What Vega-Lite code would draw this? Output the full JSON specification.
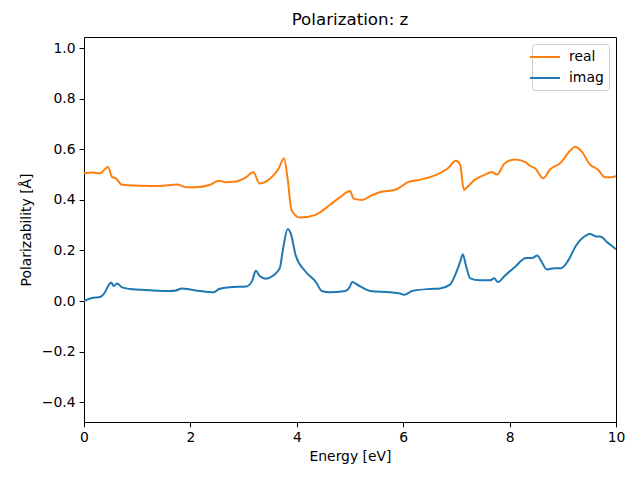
{
  "$schema": "https://vega.github.io/schema/vega-lite/v6.json",
  "width": 532,
  "height": 385,
  "autosize": "none",
  "padding": {"left": 84, "top": 37, "right": 24, "bottom": 58},
  "background": "white",
  "title": {"text": "Polarization: z", "fontSize": 16.7, "fontWeight": "normal", "font": "DejaVu Sans", "offset": 8, "color": "black"},
  "config": {
    "view": {"stroke": "black", "strokeWidth": 1},
    "axis": {"grid": false, "domain": false, "labelFlush": false, "tickColor": "black", "tickSize": 4.9, "tickWidth": 1, "labelFont": "DejaVu Sans", "labelFontSize": 13.9, "labelColor": "black", "titleFont": "DejaVu Sans", "titleFontSize": 13.9, "titleFontWeight": "normal", "titleColor": "black", "labelPadding": 4}
  },
  "data": {"values": [
    {"e":0,"v":0.505,"s":"real"},{"e":0.15,"v":0.508,"s":"real"},{"e":0.3,"v":0.505,"s":"real"},{"e":0.45,"v":0.53,"s":"real"},{"e":0.53,"v":0.49,"s":"real"},{"e":0.6,"v":0.485,"s":"real"},{"e":0.71,"v":0.46,"s":"real"},{"e":1.05,"v":0.456,"s":"real"},{"e":1.43,"v":0.455,"s":"real"},{"e":1.75,"v":0.461,"s":"real"},{"e":1.92,"v":0.45,"s":"real"},{"e":2.1,"v":0.45,"s":"real"},{"e":2.37,"v":0.46,"s":"real"},{"e":2.54,"v":0.476,"s":"real"},{"e":2.65,"v":0.47,"s":"real"},{"e":2.86,"v":0.473,"s":"real"},{"e":3.05,"v":0.49,"s":"real"},{"e":3.18,"v":0.51,"s":"real"},{"e":3.3,"v":0.465,"s":"real"},{"e":3.5,"v":0.485,"s":"real"},{"e":3.65,"v":0.52,"s":"real"},{"e":3.76,"v":0.565,"s":"real"},{"e":3.83,"v":0.48,"s":"real"},{"e":3.9,"v":0.36,"s":"real"},{"e":4.06,"v":0.33,"s":"real"},{"e":4.34,"v":0.34,"s":"real"},{"e":4.43,"v":0.35,"s":"real"},{"e":4.62,"v":0.38,"s":"real"},{"e":4.81,"v":0.41,"s":"real"},{"e":5.0,"v":0.435,"s":"real"},{"e":5.07,"v":0.405,"s":"real"},{"e":5.23,"v":0.4,"s":"real"},{"e":5.38,"v":0.415,"s":"real"},{"e":5.56,"v":0.43,"s":"real"},{"e":5.85,"v":0.44,"s":"real"},{"e":5.98,"v":0.455,"s":"real"},{"e":6.09,"v":0.47,"s":"real"},{"e":6.32,"v":0.48,"s":"real"},{"e":6.63,"v":0.5,"s":"real"},{"e":6.84,"v":0.525,"s":"real"},{"e":6.99,"v":0.555,"s":"real"},{"e":7.07,"v":0.54,"s":"real"},{"e":7.14,"v":0.44,"s":"real"},{"e":7.2,"v":0.45,"s":"real"},{"e":7.35,"v":0.48,"s":"real"},{"e":7.54,"v":0.5,"s":"real"},{"e":7.67,"v":0.51,"s":"real"},{"e":7.76,"v":0.5,"s":"real"},{"e":7.91,"v":0.545,"s":"real"},{"e":8.1,"v":0.56,"s":"real"},{"e":8.29,"v":0.55,"s":"real"},{"e":8.38,"v":0.535,"s":"real"},{"e":8.48,"v":0.525,"s":"real"},{"e":8.63,"v":0.485,"s":"real"},{"e":8.76,"v":0.52,"s":"real"},{"e":8.95,"v":0.545,"s":"real"},{"e":9.14,"v":0.595,"s":"real"},{"e":9.23,"v":0.61,"s":"real"},{"e":9.36,"v":0.59,"s":"real"},{"e":9.51,"v":0.54,"s":"real"},{"e":9.66,"v":0.52,"s":"real"},{"e":9.79,"v":0.49,"s":"real"},{"e":9.92,"v":0.49,"s":"real"},{"e":10,"v":0.495,"s":"real"},
    {"e":0,"v":0.0,"s":"imag"},{"e":0.15,"v":0.012,"s":"imag"},{"e":0.3,"v":0.016,"s":"imag"},{"e":0.38,"v":0.03,"s":"imag"},{"e":0.47,"v":0.065,"s":"imag"},{"e":0.51,"v":0.073,"s":"imag"},{"e":0.56,"v":0.06,"s":"imag"},{"e":0.62,"v":0.07,"s":"imag"},{"e":0.71,"v":0.055,"s":"imag"},{"e":0.86,"v":0.048,"s":"imag"},{"e":1.24,"v":0.043,"s":"imag"},{"e":1.62,"v":0.04,"s":"imag"},{"e":1.73,"v":0.042,"s":"imag"},{"e":1.84,"v":0.05,"s":"imag"},{"e":1.99,"v":0.046,"s":"imag"},{"e":2.18,"v":0.04,"s":"imag"},{"e":2.44,"v":0.035,"s":"imag"},{"e":2.54,"v":0.048,"s":"imag"},{"e":2.74,"v":0.055,"s":"imag"},{"e":3.05,"v":0.058,"s":"imag"},{"e":3.16,"v":0.08,"s":"imag"},{"e":3.23,"v":0.12,"s":"imag"},{"e":3.3,"v":0.1,"s":"imag"},{"e":3.42,"v":0.088,"s":"imag"},{"e":3.55,"v":0.1,"s":"imag"},{"e":3.68,"v":0.13,"s":"imag"},{"e":3.74,"v":0.205,"s":"imag"},{"e":3.83,"v":0.285,"s":"imag"},{"e":3.89,"v":0.265,"s":"imag"},{"e":3.98,"v":0.18,"s":"imag"},{"e":4.15,"v":0.12,"s":"imag"},{"e":4.36,"v":0.075,"s":"imag"},{"e":4.47,"v":0.04,"s":"imag"},{"e":4.62,"v":0.035,"s":"imag"},{"e":4.91,"v":0.04,"s":"imag"},{"e":5.0,"v":0.058,"s":"imag"},{"e":5.04,"v":0.075,"s":"imag"},{"e":5.19,"v":0.058,"s":"imag"},{"e":5.38,"v":0.04,"s":"imag"},{"e":5.75,"v":0.035,"s":"imag"},{"e":5.94,"v":0.03,"s":"imag"},{"e":6.02,"v":0.025,"s":"imag"},{"e":6.17,"v":0.04,"s":"imag"},{"e":6.5,"v":0.048,"s":"imag"},{"e":6.69,"v":0.05,"s":"imag"},{"e":6.88,"v":0.065,"s":"imag"},{"e":6.97,"v":0.1,"s":"imag"},{"e":7.07,"v":0.155,"s":"imag"},{"e":7.12,"v":0.185,"s":"imag"},{"e":7.18,"v":0.14,"s":"imag"},{"e":7.26,"v":0.09,"s":"imag"},{"e":7.44,"v":0.082,"s":"imag"},{"e":7.63,"v":0.082,"s":"imag"},{"e":7.71,"v":0.09,"s":"imag"},{"e":7.78,"v":0.075,"s":"imag"},{"e":7.91,"v":0.1,"s":"imag"},{"e":8.1,"v":0.135,"s":"imag"},{"e":8.31,"v":0.17,"s":"imag"},{"e":8.42,"v":0.17,"s":"imag"},{"e":8.52,"v":0.18,"s":"imag"},{"e":8.59,"v":0.16,"s":"imag"},{"e":8.7,"v":0.125,"s":"imag"},{"e":8.85,"v":0.13,"s":"imag"},{"e":8.97,"v":0.13,"s":"imag"},{"e":9.1,"v":0.16,"s":"imag"},{"e":9.25,"v":0.22,"s":"imag"},{"e":9.44,"v":0.26,"s":"imag"},{"e":9.51,"v":0.265,"s":"imag"},{"e":9.64,"v":0.255,"s":"imag"},{"e":9.7,"v":0.255,"s":"imag"},{"e":9.85,"v":0.23,"s":"imag"},{"e":10,"v":0.205,"s":"imag"}
  ]},
  "mark": {"type": "line", "strokeWidth": 2, "interpolate": "monotone", "clip": true},
  "encoding": {
    "x": {"field": "e", "type": "quantitative", "title": "Energy [eV]", "scale": {"domain": [0, 10], "nice": false, "zero": false}, "axis": {"values": [0, 2, 4, 6, 8, 10], "titlePadding": 5}},
    "y": {"field": "v", "type": "quantitative", "title": "Polarizability [Å]", "scale": {"domain": [-0.478, 1.044], "nice": false, "zero": false}, "axis": {"values": [-0.4, -0.2, 0, 0.2, 0.4, 0.6, 0.8, 1.0], "format": ".1f", "labelExpr": "replace(datum.label, '-', '−')", "titlePadding": 8}},
    "color": {"field": "s", "type": "nominal", "sort": ["real", "imag"], "scale": {"domain": ["real", "imag"], "range": ["#ff7f0e", "#1f77b4"]},
      "legend": {"title": null, "orient": "top-right", "offset": 7, "symbolType": "M-2.15,0H2.15", "symbolSize": 196, "symbolStrokeWidth": 2, "labelFont": "DejaVu Sans", "labelFontSize": 13.9, "labelColor": "black", "strokeColor": "#cccccc", "cornerRadius": 3, "padding": 5, "rowPadding": 6, "fillColor": "white", "labelOffset": 16}}
  }
}
